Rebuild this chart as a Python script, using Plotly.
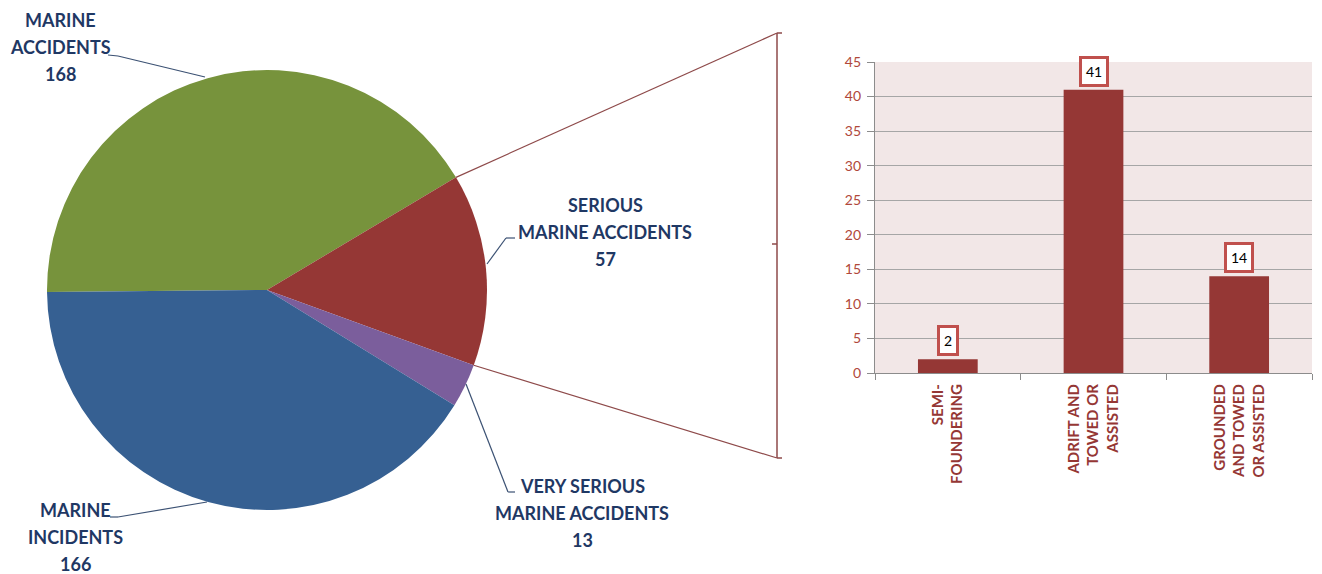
import plotly.graph_objects as go
import math

W, H = 1322, 574

# ---- data ----
pie_labels = ["MARINE ACCIDENTS", "SERIOUS MARINE ACCIDENTS",
              "VERY SERIOUS MARINE ACCIDENTS", "MARINE INCIDENTS"]
pie_values = [168, 57, 13, 166]
pie_colors = ["#77933C", "#953735", "#7B5E9C", "#366092"]
pie_label_lines = [["MARINE", "ACCIDENTS", "168"],
                   ["SERIOUS", "MARINE ACCIDENTS", "57"],
                   ["VERY SERIOUS", "MARINE ACCIDENTS", "13"],
                   ["MARINE", "INCIDENTS", "166"]]

bar_categories = ["SEMI-<br>FOUNDERING",
                  "ADRIFT AND<br>TOWED OR<br>ASSISTED",
                  "GROUNDED<br>AND TOWED<br>OR ASSISTED"]
bar_values = [2, 41, 14]
y_ticks = [0, 5, 10, 15, 20, 25, 30, 35, 40, 45]


def X(px):
    return px / W


def Y(py):
    return 1 - py / H


FONT = "Lato"
NAVY = "#1F3864"
RED = "#953735"

# pie geometry (pixels)
cx, cy, r = 267, 290, 220
rotation = -90.5  # compass degrees, clockwise start of first slice

fig = go.Figure()
fig.add_trace(go.Pie(
    labels=pie_labels, values=pie_values, sort=False, direction="clockwise",
    rotation=rotation, marker=dict(colors=pie_colors, line=dict(width=0)),
    textinfo="none", hoverinfo="label+value", showlegend=False,
    domain=dict(x=[X(cx - r), X(cx + r)], y=[Y(cy + r), Y(cy - r)]),
))

fig.add_trace(go.Bar(
    x=bar_categories, y=bar_values, marker=dict(color=RED, line=dict(width=0)),
    xaxis="x", yaxis="y", showlegend=False, hoverinfo="x+y",
))


def boundary_point(idx):
    tot = sum(pie_values)
    ang = rotation + 360 * sum(pie_values[:idx]) / tot
    a = math.radians(ang)
    return cx + r * math.sin(a), cy - r * math.cos(a)


shapes = []
LINE_C = "#8E4A4A"


def seg(x0, y0, x1, y1, color, w=1.2):
    shapes.append(dict(type="line", xref="paper", yref="paper",
                       x0=X(x0), y0=Y(y0), x1=X(x1), y1=Y(y1),
                       line=dict(color=color, width=w)))


# connectors from serious slice to bracket
bx = 777
p_top = boundary_point(1)
p_bot = boundary_point(2)
seg(p_top[0], p_top[1], bx, 33, LINE_C)
seg(p_bot[0], p_bot[1], bx, 458, LINE_C)
# bracket
seg(bx, 33, bx, 458, LINE_C, 1.5)
seg(bx, 33, bx + 5, 33, LINE_C, 1.5)
seg(bx, 458, bx + 5, 458, LINE_C, 1.5)
seg(bx - 5, 244, bx, 244, LINE_C, 1.5)

# leader lines for pie labels
LEAD = "#3B5173"
seg(108, 55, 118, 56, LEAD)
seg(118, 56, 205, 77, LEAD)
seg(515, 238, 506, 238, LEAD)
seg(506, 238, 487, 264, LEAD)
seg(466, 384, 508, 492, LEAD)
seg(508, 492, 515, 492, LEAD)
seg(110, 517, 118, 517, LEAD)
seg(118, 517, 207, 502, LEAD)

annotations = []
label_pos = [(60, 20), (605, 205), (582, 486), (75, 510)]
for lines, (lx, ly) in zip(pie_label_lines, label_pos):
    for i, t in enumerate(lines):
        annotations.append(dict(
            text=t, x=X(lx), y=Y(ly + 27 * i), xref="paper", yref="paper",
            showarrow=False, xanchor="center", yanchor="middle",
            font=dict(family=FONT, size=18, color=NAVY, weight="bold")))

for c, v in zip(bar_categories, bar_values):
    annotations.append(dict(
        text=str(v), x=c, y=v, xref="x", yref="y", showarrow=False,
        yanchor="bottom", yshift=3, bgcolor="white", bordercolor="#C0504D",
        borderwidth=3, borderpad=4,
        font=dict(family=FONT, size=14, color="black")))

fig.update_layout(
    width=W, height=H, margin=dict(l=0, r=0, t=0, b=0, autoexpand=False),
    paper_bgcolor="white", plot_bgcolor="#F2E7E7",
    shapes=shapes, annotations=annotations,
    xaxis=dict(domain=[X(875), X(1312)], anchor="y", showline=True,
               linecolor="#8C8C8C", linewidth=1.2, ticks="outside",
               tickson="boundaries", ticklen=6, tickcolor="#8C8C8C",
               tickangle=-90, showgrid=False, fixedrange=True,
               ticklabelstandoff=4,
               tickfont=dict(family=FONT, size=15, color=RED, weight="bold")),
    yaxis=dict(domain=[Y(373), Y(62)], anchor="x", range=[0, 45],
               tickvals=y_ticks, showline=True, linecolor="#8C8C8C",
               linewidth=1.2, ticks="outside", ticklen=7, tickcolor="#8C8C8C",
               gridcolor="#A6A6A6", gridwidth=1, zeroline=False,
               fixedrange=True, ticklabelstandoff=3,
               tickfont=dict(family=FONT, size=14, color="#B0483A")),
    bargap=0.59,
)

fig.write_html(
    "out.html",
    config={"displayModeBar": False},
    post_script="var s=document.createElement('style');"
                "s.textContent='html,body{margin:0;padding:0;}';"
                "document.head.appendChild(s);",
)
